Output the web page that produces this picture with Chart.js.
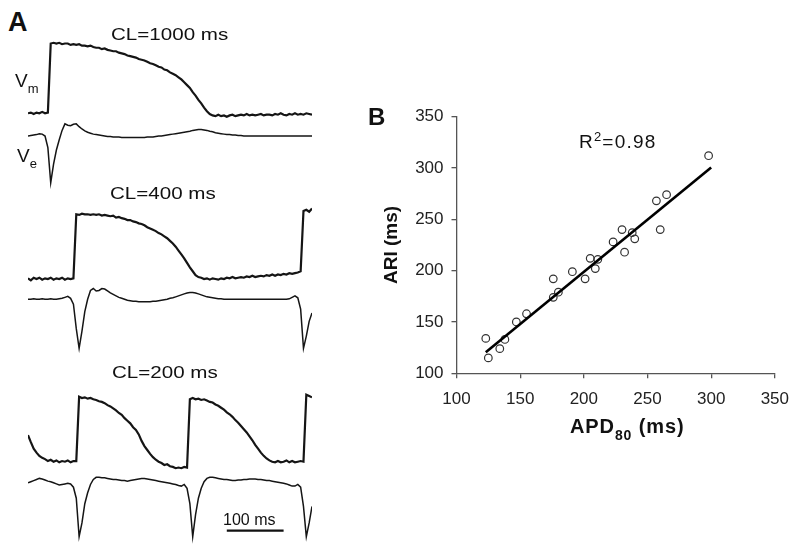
<!DOCTYPE html>
<html>
<head>
<meta charset="utf-8">
<script src="https://cdn.jsdelivr.net/npm/chart.js"></script>
<style>
  body { margin: 0; background: #fff; }
  #fig { position: relative; width: 800px; height: 553px; overflow: hidden; background: #fff; }
  canvas { position: absolute; }
  .lbl { position: absolute; font-family: "Liberation Sans", Arial, sans-serif; line-height: 1; white-space: nowrap; color: #111; }
  .cl { font-size: 17px; transform: scaleX(1.21); transform-origin: left top; }
</style>
</head>
<body>
<div id="fig">
  <canvas id="vm1000" style="left:28px;top:34px" width="284" height="90"></canvas>
  <canvas id="ve1000" style="left:28px;top:118px" width="284" height="72"></canvas>
  <canvas id="vm400" style="left:28px;top:204px" width="284" height="84"></canvas>
  <canvas id="ve400" style="left:28px;top:282px" width="284" height="72"></canvas>
  <canvas id="vm200" style="left:28px;top:386px" width="284" height="88"></canvas>
  <canvas id="ve200" style="left:28px;top:468px" width="284" height="76"></canvas>
  <canvas id="scatterB" style="left:360px;top:95px" width="440" height="355"></canvas>

  <div class="lbl" style="left:8px;top:9px;font-size:27px;font-weight:bold">A</div>
  <div class="lbl" style="left:368px;top:105px;font-size:24px;font-weight:bold">B</div>
  <div class="lbl cl" style="left:111px;top:26px">CL=1000 ms</div>
  <div class="lbl cl" style="left:110px;top:185px">CL=400 ms</div>
  <div class="lbl cl" style="left:112px;top:364px">CL=200 ms</div>
  <div class="lbl" style="left:15px;top:71px;font-size:19px">V<span style="font-size:13px;position:relative;top:6px">m</span></div>
  <div class="lbl" style="left:17px;top:146px;font-size:19px">V<span style="font-size:13px;position:relative;top:6px">e</span></div>
  <div class="lbl" style="left:223px;top:512px;font-size:16px">100 ms</div>
  <div class="lbl" style="left:579px;top:132px;font-size:19px;letter-spacing:1.2px">R<span style="font-size:13px;position:relative;top:-7px">2</span>=0.98</div>
  <div class="lbl" style="left:570px;top:416px;font-size:20px;font-weight:bold;letter-spacing:0.9px">APD<span style="font-size:14px;position:relative;top:7px">80</span> (ms)</div>
</div>
<script>
// panel A: traces sampled every 5 ms, 0-500 ms
const sampleMs = Array.from({length: 101}, (_, i) => i * 5);

// Vm as % of action potential amplitude, Ve as % of the spike depth
const vm1000 = [
  1, 2, 0, 2, 1, 3, 1, 2, 100, 101,
  100, 101, 99, 100, 100, 98, 99, 98, 99, 97,
  97, 96, 97, 95, 94, 94, 92, 93, 91, 90,
  89, 89, 87, 86, 85, 83, 82, 81, 80, 78,
  77, 76, 74, 72, 71, 69, 67, 66, 63, 62,
  59, 57, 55, 52, 49, 45, 41, 37, 31, 26,
  20, 15, 9, 4, 0, -2, -3, -1, -3, -2,
  -4, -2, -1, -3, -2, -1, -2, 0, -2, -1,
  -2, -1, 0, -2, -1, -1, -2, 0, -1, 1,
  -1, -2, 0, -1, 1, -1, 0, -1, 1, 0,
  -1];
const ve1000 = [
  0, 1, 2, 3, 5, 4, 0, -25, -100, -60,
  -30, -8, 12, 26, 23, 22, 25, 26, 20, 15,
  11, 8, 6, 4, 3, 2, 1, 0, -1, -1,
  -2, -2, -2, -3, -3, -3, -3, -3, -3, -3,
  -3, -3, -2, -2, -2, -1, 0, 0, 1, 2,
  3, 4, 5, 6, 7, 8, 9, 10, 12, 13,
  14, 14, 13, 12, 10, 9, 7, 6, 5, 4,
  3, 3, 2, 2, 1, 1, 0, 0, 0, 0,
  0, 0, 0, 0, 0, 0, 0, 0, 0, 0,
  0, 0, 0, 0, 0, 0, 0, 0, 0, 0,
  0];
const vm400 = [
  1, -2, 2, 0, 2, -1, 1, 0, 2, -1,
  1, 0, 2, -1, 1, 0, 1, 100, 99, 101,
  100, 100, 99, 100, 99, 100, 98, 99, 98, 97,
  98, 95, 96, 94, 93, 91, 91, 89, 88, 86,
  85, 83, 80, 78, 76, 74, 71, 69, 66, 63,
  59, 55, 50, 44, 38, 32, 25, 18, 12, 6,
  3, 2, 0, 1, -1, 1, 0, -1, 1, 0,
  2, 1, 3, 1, 2, 3, 2, 4, 3, 5,
  3, 4, 5, 4, 6, 5, 7, 5, 7, 6,
  8, 7, 9, 8, 9, 10, 12, 105, 107, 104,
  109];
const ve400 = [
  0, 0, 1, 0, 0, 1, 0, 0, 1, 0,
  0, 1, 2, 4, 6, 2, -10, -60, -100, -65,
  -25, 0, 18, 22, 17, 18, 22, 21, 17, 13,
  10, 7, 4, 2, 0, -2, -3, -4, -4, -5,
  -5, -5, -5, -5, -4, -4, -3, -2, -1, 0,
  2, 3, 5, 7, 9, 11, 13, 14, 14, 13,
  11, 9, 7, 5, 4, 3, 2, 1, 1, 0,
  0, 0, 0, 0, 0, 0, 0, 0, 0, 0,
  0, 0, 0, 0, 0, 0, 0, 0, 0, 0,
  0, 0, 1, 4, 7, 3, -20, -100, -75, -45,
  -28];
const vm200 = [
  41, 30, 20, 14, 9, 6, 4, 1, 3, 0,
  2, -1, 1, 0, 2, -1, 1, 1, 100, 98,
  99, 97, 98, 96, 95, 93, 92, 90, 87, 85,
  82, 79, 75, 72, 67, 63, 59, 53, 49, 42,
  32, 24, 18, 12, 7, 3, 0, -2, -5, -4,
  -7, -8, -10, -9, -10, -8, -9, 96, 98, 96,
  97, 95, 96, 94, 92, 91, 88, 86, 83, 80,
  76, 73, 69, 64, 60, 55, 50, 45, 39, 33,
  26, 20, 14, 9, 5, 2, 0, -1, 1, -1,
  0, 2, -1, 1, -1, 0, 1, 0, 103, 101,
  99];
const ve200 = [
  -2, 0, 2, 4, 6, 5, 3, 1, 0, -2,
  -4, -6, -5, -4, -3, -4, -10, -30, -100, -75,
  -40, -20, -5, 4, 8, 8, 7, 7, 6, 5,
  4, 4, 3, 2, 2, 1, 2, 3, 4, 5,
  6, 6, 5, 4, 3, 2, 1, 0, -1, -2,
  -3, -4, -5, -7, -8, -5, -12, -40, -100, -60,
  -30, -12, 0, 6, 8, 8, 7, 6, 5, 4,
  4, 3, 2, 2, 3, 3, 4, 4, 5, 5,
  5, 4, 4, 3, 2, 2, 1, 0, -1, -2,
  -3, -4, -6, -8, -8, -5, -10, -45, -100, -75,
  -45];
const scaleBarMs = [350, 450];

// panel B
const apd80 = [123, 125, 134, 138, 147, 155, 176, 176, 180, 191, 201, 205, 209, 211, 223, 230, 232, 238, 240, 257, 260, 265, 298];
const ari = [134, 115, 124, 133, 150, 158, 192, 174, 179, 199, 192, 212, 202, 211, 228, 240, 218, 237, 231, 268, 240, 274, 312];
const fitX = [123, 300];
const fitY = [120.5, 300.5];
const axisTicks = [100, 150, 200, 250, 300, 350];

Chart.defaults.font.family = '"Liberation Sans", Arial, sans-serif';
Chart.defaults.animation = false;

// zeroPx/refPx: page rows where value 0 and refVal sit
function traceChart(id, values, zeroPx, refVal, refPx, lw, extra) {
  const cv = document.getElementById(id);
  const top = parseFloat(cv.style.top);
  const ppu = (zeroPx - refPx) / refVal;
  const yMax = (zeroPx - top) / ppu;
  const yMin = -(top + cv.height - zeroPx) / ppu;
  const datasets = [{
    data: values.map((v, i) => ({x: sampleMs[i], y: v})),
    borderColor: '#151515',
    borderWidth: lw,
    pointRadius: 0,
    tension: 0,
    clip: false
  }];
  if (extra) datasets.push(extra);
  return new Chart(cv, {
    type: 'line',
    data: {datasets},
    options: {
      responsive: false,
      layout: {padding: 0},
      plugins: {legend: {display: false}, tooltip: {enabled: false}},
      scales: {
        x: {type: 'linear', min: 0, max: 500, display: false},
        y: {min: yMin, max: yMax, display: false}
      }
    }
  });
}

traceChart('vm1000', vm1000, 114, 100, 43.5, 2.2);
traceChart('ve1000', ve1000, 136, -100, 182.7, 1.5);
traceChart('vm400', vm400, 279, 100, 214.3, 2.2);
traceChart('ve400', ve400, 299.3, -100, 348.3, 1.5);
traceChart('vm200', vm200, 461.7, 100, 396.7, 2.2);
traceChart('ve200', ve200, 481.7, -100, 536.7, 1.5, {
  data: scaleBarMs.map(t => ({x: t, y: -89})),
  borderColor: '#111',
  borderWidth: 2.2,
  pointRadius: 0,
  clip: false
});

new Chart(document.getElementById('scatterB'), {
  type: 'scatter',
  data: {
    datasets: [{
      type: 'line',
      data: fitX.map((x, i) => ({x, y: fitY[i]})),
      borderColor: '#000',
      borderWidth: 2.6,
      pointRadius: 0,
      order: 0
    }, {
      data: apd80.map((x, i) => ({x, y: ari[i]})),
      pointRadius: 3.8,
      pointBorderWidth: 1.2,
      borderColor: '#333',
      backgroundColor: 'rgba(0,0,0,0)',
      order: 1
    }]
  },
  options: {
    responsive: false,
    layout: {padding: {left: 0, right: 25, top: 21.7, bottom: 0}},
    plugins: {legend: {display: false}, tooltip: {enabled: false}},
    scales: {
      x: {
        type: 'linear', min: 100, max: 350,
        afterBuildTicks: s => { s.ticks = axisTicks.map(v => ({value: v})); },
        afterFit: s => { s.height = 76.7; },
        ticks: {font: {size: 17}, color: '#222', padding: 11},
        grid: {drawOnChartArea: false, tickLength: 5, color: '#555', lineWidth: 1.3},
        border: {color: '#555', width: 1.3}
      },
      y: {
        min: 100, max: 350,
        afterBuildTicks: s => { s.ticks = axisTicks.map(v => ({value: v})); },
        afterFit: s => { s.width = 96.5; },
        ticks: {font: {size: 17}, color: '#222', padding: 8},
        grid: {drawOnChartArea: false, tickLength: 5, color: '#555', lineWidth: 1.3},
        border: {color: '#555', width: 1.3},
        title: {display: true, text: 'ARI (ms)', font: {size: 19, weight: 'bold'}, color: '#111', padding: {top: 20, bottom: 0}}
      }
    }
  }
});
</script>
</body>
</html>
